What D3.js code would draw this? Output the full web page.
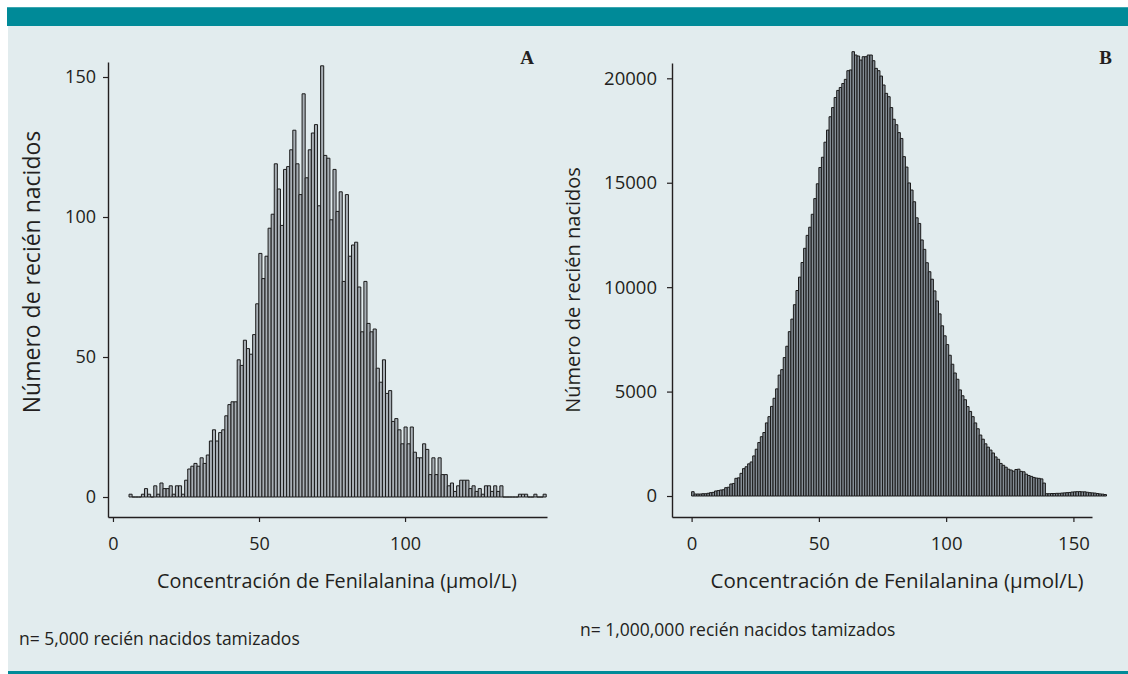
<!DOCTYPE html>
<html>
<head>
<meta charset="utf-8">
<script src="https://cdn.jsdelivr.net/npm/d3@7"></script>
<style>
body { margin: 0; background: #fff; }
text { font-family: "Open Sans", Lato, sans-serif; fill: #231f20; }
</style>
</head>
<body>
<div id="fig"></div>
<script>
(function() {
var WIDTH = 1128;
var HEIGHT = 674;

// panel A: 5,000 newborns, bins of ~1.06 umol/L starting at 5.5
var countsA = [1,0,0,0,1,3,1,0,4,1,5,3,3,4,1,4,4,1,6,10,11,12,11,14,12,15,20,24,20,23,
  24,29,33,34,34,49,47,56,53,51,58,69,87,78,86,96,101,119,110,97,117,118,124,131,119,108,
  144,114,124,130,133,104,154,122,121,99,117,102,109,77,108,86,90,91,75,59,77,62,59,60,
  46,41,49,37,38,27,28,24,19,25,19,25,16,14,14,19,17,8,14,8,14,8,8,4,5,2,4,6,6,6,3,4,2,
  3,1,4,4,2,4,2,4,0,0,0,0,0,1,1,1,0,0,1,0,0,1];
var startA = 5.5;
var widthA = 1.058;

// panel B: 1,000,000 newborns, bins of 1 umol/L starting at 0
var countsB = [207,96,96,96,110,110,130,160,175,240,260,287,300,400,420,575,600,846,870,1085,
  1310,1400,1540,1630,1920,2240,2560,2840,3040,3500,
  3800,4290,4680,5130,5790,6050,6630,7170,7870,8470,
  9160,9840,10480,11180,11860,12480,12870,13490,14240,14950,
  15730,16220,16940,17520,18160,18600,19080,19420,19560,19750,
  19950,20365,20400,21275,21115,21067,20875,21035,21035,21115,
  21115,20843,20476,20365,20109,19679,19280,19120,18600,18040,
  17780,17400,17120,16250,15750,14990,14650,14090,13320,13050,
  12260,11810,11170,10740,10380,9820,9340,8720,8150,7670,
  7250,6740,6310,5890,5590,5080,4800,4610,4280,4050,
  3800,3500,3220,2920,2720,2500,2340,2200,2060,1870,
  1760,1560,1470,1380,1285,1245,1190,1270,1285,1180,
  1160,1045,980,940,890,860,846,820,620,
  110,110,120,120,128,128,140,150,160,170,190,200,207,210,200,200,180,160,150,140,120,100,90,70];
var startB = 0;
var widthB = 1;

var yTicksA = [0, 50, 100, 150];
var xTicksA = [0, 50, 100];
var yTicksB = [0, 5000, 10000, 15000, 20000];
var xTicksB = [0, 50, 100, 150];

var yTitle = 'Número de recién nacidos';
var xTitle = 'Concentración de Fenilalanina (µmol/L)';
var notes = ['n= 5,000 recién nacidos tamizados', 'n= 1,000,000 recién nacidos tamizados'];

var svg = d3.select('#fig').append('svg')
  .attr('width', WIDTH)
  .attr('height', HEIGHT);

// frame
svg.append('rect').attr('x', 8).attr('y', 26).attr('width', WIDTH - 8).attr('height', 645)
  .attr('fill', '#e2ecee');
svg.append('rect').attr('x', 7).attr('y', 7).attr('width', WIDTH - 7).attr('height', 19)
  .attr('fill', '#008a98');
svg.append('rect').attr('x', 7).attr('y', 7).attr('width', WIDTH - 7).attr('height', 1)
  .attr('fill', '#3aa6b0');
svg.append('rect').attr('x', 8).attr('y', 671).attr('width', WIDTH - 8).attr('height', 3)
  .attr('fill', '#008a98');

drawPanel({
  counts: countsA, start: startA, binWidth: widthA,
  xDomain: [-1.7, 148.6], xRange: [108, 547],
  yDomain: [-7.14, 155.36], yRange: [517, 62],
  xTicks: xTicksA, yTicks: yTicksA,
  fill: '#a9b0b6', tickSize: 18, tickPad: 7,
  letter: 'A', letterX: 534,
  yTitleX: 40, yTitleY: 272, yTitleSize: 23,
  xTitleX: 337, xTitleY: 588, xTitleSize: 19.8,
  note: notes[0], noteX: 19, noteY: 645
});

drawPanel({
  counts: countsB, start: startB, binWidth: widthB,
  xDomain: [-7.7, 157.3], xRange: [672, 1092],
  yDomain: [-1005, 20733], yRange: [517, 63],
  xTicks: xTicksB, yTicks: yTicksB,
  fill: '#858e96', tickSize: 18.5, tickPad: 10,
  letter: 'B', letterX: 1112,
  yTitleX: 580, yTitleY: 290, yTitleSize: 20,
  xTitleX: 897, xTitleY: 588, xTitleSize: 20.5,
  note: notes[1], noteX: 580, noteY: 636
});

function drawPanel(p) {
  var x = d3.scaleLinear().domain(p.xDomain).range(p.xRange);
  var y = d3.scaleLinear().domain(p.yDomain).range(p.yRange);
  var g = svg.append('g');

  g.selectAll('path.bar')
    .data(p.counts)
    .enter().append('path')
    .attr('class', 'bar')
    .attr('d', function(d, i) {
      var x0 = x(p.start + i * p.binWidth);
      var x1 = x(p.start + (i + 1) * p.binWidth);
      return 'M' + x0 + ',' + y(0) + 'V' + y(d) + 'H' + x1 + 'V' + y(0) + 'Z';
    })
    .attr('fill', p.fill)
    .attr('stroke', '#1b1b1b')
    .attr('stroke-width', 1);

  var yAxis = g.append('g')
    .attr('transform', 'translate(' + p.xRange[0] + ',0)')
    .call(d3.axisLeft(y).tickValues(p.yTicks).tickFormat(d3.format('d'))
      .tickSize(5).tickSizeOuter(0).tickPadding(p.tickPad));
  var xAxis = g.append('g')
    .attr('transform', 'translate(0,' + p.yRange[0] + ')')
    .call(d3.axisBottom(x).tickValues(p.xTicks).tickFormat(d3.format('d'))
      .tickSize(5).tickSizeOuter(0).tickPadding(15));

  [yAxis, xAxis].forEach(function(a) {
    a.select('.domain').attr('stroke', '#231f20').attr('stroke-width', 1.4);
    a.selectAll('.tick line').attr('stroke', '#231f20').attr('stroke-width', 1.2);
    a.selectAll('.tick text')
      .style('font-family', '"Open Sans", sans-serif')
      .style('font-size', p.tickSize + 'px')
      .attr('fill', '#231f20');
  });

  g.append('text')
    .attr('x', p.letterX).attr('y', 64)
    .attr('text-anchor', 'end')
    .style('font-family', '"Liberation Serif", serif')
    .style('font-weight', 'bold')
    .style('font-size', '19px')
    .text(p.letter);

  g.append('text')
    .attr('transform', 'translate(' + p.yTitleX + ',' + p.yTitleY + ') rotate(-90)')
    .attr('text-anchor', 'middle')
    .style('font-size', p.yTitleSize + 'px')
    .text(yTitle);

  g.append('text')
    .attr('x', p.xTitleX).attr('y', p.xTitleY)
    .attr('text-anchor', 'middle')
    .style('font-size', p.xTitleSize + 'px')
    .text(xTitle);

  g.append('text')
    .attr('x', p.noteX).attr('y', p.noteY)
    .style('font-size', '17.5px')
    .text(p.note);
}
})();
</script>
</body>
</html>
